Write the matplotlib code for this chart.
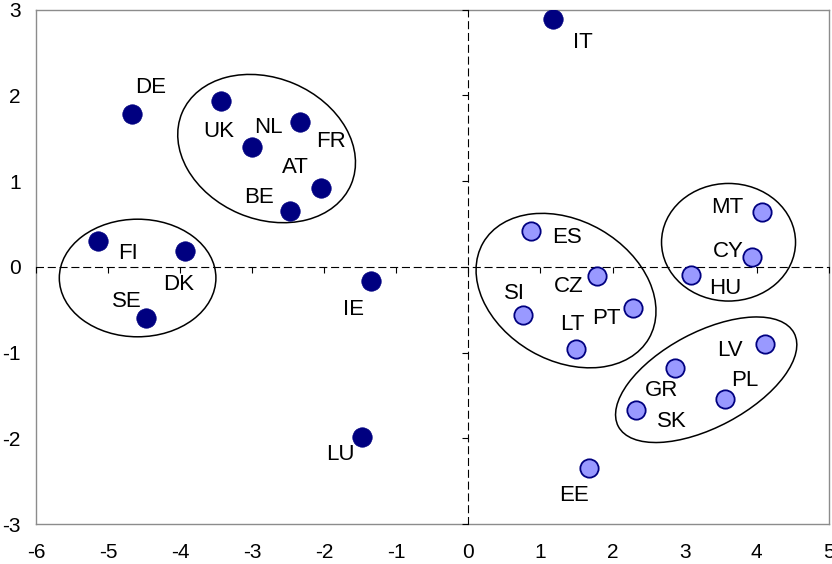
import matplotlib
matplotlib.use("Agg")
import matplotlib.pyplot as plt
from matplotlib.patches import Ellipse
from matplotlib.transforms import ScaledTranslation

plt.rcParams['font.family'] = ['Liberation Sans', 'DejaVu Sans']
plt.rcParams['lines.scale_dashes'] = False

# Old member states (dark markers)
old_names = ["DE", "UK", "NL", "FR", "AT", "BE", "FI", "DK", "SE", "IE", "LU", "IT"]
old_x = [-4.67, -3.43, -3.00, -2.33, -2.05, -2.48, -5.14, -3.93, -4.48, -1.35, -1.48, 1.17]
old_y = [1.78, 1.93, 1.40, 1.69, 0.92, 0.65, 0.30, 0.19, -0.60, -0.16, -1.98, 2.89]

# New member states (light markers)
new_names = ["ES", "CZ", "SI", "LT", "PT", "MT", "CY", "HU", "LV", "PL", "GR", "SK", "EE"]
new_x = [0.87, 1.79, 0.76, 1.49, 2.29, 4.07, 3.93, 3.09, 4.12, 3.56, 2.87, 2.32, 1.68]
new_y = [0.42, -0.11, -0.56, -0.96, -0.48, 0.64, 0.12, -0.09, -0.90, -1.54, -1.18, -1.67, -2.35]

x_ticks = [-6, -5, -4, -3, -2, -1, 0, 1, 2, 3, 4, 5]
y_ticks = [-3, -2, -1, 0, 1, 2, 3]

# label offsets in pixels (dx right, dy up) relative to the marker
label_off = {
    "DE": (19, 29.5), "UK": (-2.5, -27.3), "NL": (16.5, 22), "FR": (30.5, -16.9),
    "AT": (-25.5, 22.8), "BE": (-31, 16.2), "FI": (30, -9.8), "DK": (-6.1, -31.5),
    "SE": (-18.6, 19.5), "IE": (-18, -26), "LU": (-21.6, -15.8), "IT": (30, -21.4),
    "ES": (36.3, -3.7), "CZ": (-28.6, -8), "SI": (-8.3, 24.2), "LT": (-3.3, 26.8),
    "PT": (-27, -7.9), "MT": (-34.2, 6.5), "CY": (-23.2, 7.2), "HU": (33.8, -11),
    "LV": (-35, -3.7), "PL": (19.8, 21), "GR": (-13.7, -19.7), "SK": (36.2, -9.3),
    "EE": (-15.6, -24.5),
}

# cluster ellipses: centre (data), width/height (px), angle (deg)
ellipses = [
    ((-2.80, 1.38), 183.6, 141.0, -23),
    ((-4.59, -0.13), 156.6, 117.6, 0),
    ((1.355, -0.277), 191.4, 140.0, -30),
    ((3.61, 0.287), 134.0, 117.6, 0),
    ((3.30, -1.317), 199.0, 95.0, 28),
]

DPI = 100
fig = plt.figure(figsize=(8.32, 5.64), dpi=DPI)
rect = [36.0 / 832, 1 - 524.0 / 564, (828.7 - 36.0) / 832, (524.0 - 9.7) / 564]
ax = fig.add_axes(rect)
ax.set_xlim(-6, 5)
ax.set_ylim(-3, 3)
ax.set_xticks(x_ticks)
ax.set_yticks(y_ticks)
ax.set_xticklabels([str(v) for v in x_ticks])
ax.set_yticklabels([str(v) for v in y_ticks])
ax.tick_params(axis='x', length=0, pad=13.5, labelsize=15)
ax.tick_params(axis='y', length=0, pad=11, labelsize=15)
for s in ax.spines.values():
    s.set_color('#8c8c8c')
    s.set_linewidth(1.0)

# overlay axes for dashed zero axes with tick marks
ax2 = fig.add_axes(rect, sharex=ax, sharey=ax)
ax2.patch.set_visible(False)
ax2.spines['top'].set_visible(False)
ax2.spines['right'].set_visible(False)
ax2.spines['left'].set_position(('data', 0))
ax2.spines['bottom'].set_position(('data', 0))
for k in ['left', 'bottom']:
    ax2.spines[k].set_linestyle((0, (5, 3.5)))
    ax2.spines[k].set_color('black')
    ax2.spines[k].set_linewidth(0.8)
ax2.tick_params(direction='out', length=4, width=0.8, color='black',
                labelbottom=False, labelleft=False)
ax2.set_xticks(x_ticks)
ax2.set_yticks(y_ticks)

for (cx, cy), w, h, ang in ellipses:
    tr = fig.dpi_scale_trans + ScaledTranslation(cx, cy, ax.transData)
    e = Ellipse((0, 0), w / DPI, h / DPI, angle=ang, transform=tr,
                fill=False, edgecolor='black', linewidth=1.1, zorder=3)
    ax2.add_patch(e)

ax2.plot(old_x, old_y, 'o', ms=14, color='#000080', mec='#000080', mew=0.5, zorder=5)
ax2.plot(new_x, new_y, 'o', ms=13.2, color='#9999ff', mec='#000080', mew=1.3, zorder=5)

fs = 16
cap_half = 0.716 * fs / 2
px2pt = 72.0 / DPI
for names, xs, ys in [(old_names, old_x, old_y), (new_names, new_x, new_y)]:
    for n, x, y in zip(names, xs, ys):
        dx, dy = label_off[n]
        ax2.annotate(n, (x, y), xytext=(dx * px2pt, dy * px2pt - cap_half),
                     textcoords='offset points', ha='center', va='baseline',
                     fontsize=fs, color='black', zorder=6)

fig.savefig('out.png', dpi=DPI)
